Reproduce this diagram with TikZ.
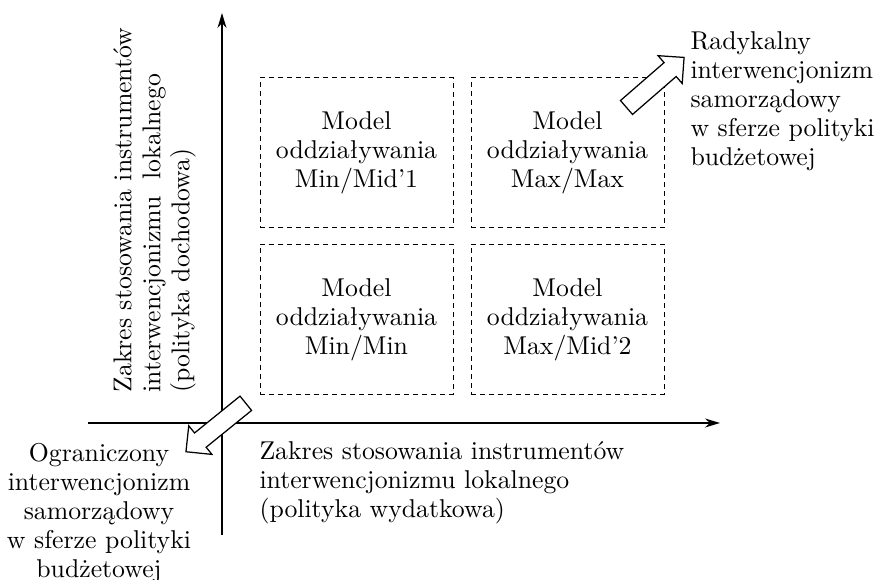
\documentclass[tikz,border=0pt]{standalone}
\usepackage{fontspec}
\usetikzlibrary{arrows.meta}

\begin{document}
\begin{tikzpicture}[x=4pt, y=4pt,
    font=\fontsize{10.3}{11.6}\selectfont,
    axis/.style={line width=0.5pt, -{Stealth[length=6pt, width=3.6pt]}},
    modelbox/.style={draw, dash pattern=on 2pt off 1.6pt, line width=0.4pt,
        minimum width=77.2pt, minimum height=60pt, align=center, inner sep=0pt, outer sep=0pt},
    blockarrow/.style={draw, fill=white, line width=0.5pt, line join=miter},
    txt/.style={inner sep=0pt}]

    \useasboundingbox (0,0) rectangle (87.7,58);

    % Draw the axes
    \coordinate (ybot) at (22.2,4.5);
    \coordinate (ytop) at (22.2,56.7);
    \coordinate (xleft) at (8.8,15.7);
    \coordinate (xright) at (72.0,15.7);
    \draw[axis] (ybot) -- (ytop);
    \draw[axis] (xleft) -- (xright);

    % Draw the four model boxes
    \node[modelbox] (minmid) at (35.65,42.7) {Model\\oddziaływania\\Min/Mid’1};
    \node[modelbox] (maxmax) at (56.75,42.7) {Model\\oddziaływania\\Max/Max};
    \node[modelbox] (minmin) at (35.65,26.05) {Model\\oddziaływania\\Min/Min};
    \node[modelbox] (maxmid) at (56.75,26.05) {Model\\oddziaływania\\Max/Mid’2};

    % Draw the hollow arrows
    \draw[blockarrow, shift={(62.65,47.25)}, rotate=41]
        (0,-0.92) -- (5.78,-0.92) -- (5.78,-1.84) -- (7.63,0) -- (5.78,1.84) -- (5.78,0.92) -- (0,0.92) -- cycle;
    \draw[blockarrow, shift={(24.58,17.67)}, rotate=219]
        (0,-0.92) -- (5.85,-0.92) -- (5.85,-1.84) -- (7.7,0) -- (5.85,1.84) -- (5.85,0.92) -- (0,0.92) -- cycle;

    % Label the axes
    \node[txt, rotate=90, anchor=north west, align=left] (ylabel) at (11.3,18.7)
        {Zakres stosowania instrumentów\\interwencjonizmu\ \ lokalnego\\(polityka dochodowa)};
    \node[txt, anchor=north west, align=left] (xlabel) at (25.9,13.9)
        {Zakres stosowania instrumentów\\interwencjonizmu lokalnego\\(polityka wydatkowa)};

    % Label the corners
    \node[txt, anchor=north west, align=left] (radlabel) at (69.0,54.9)
        {Radykalny\\interwencjonizm\\samorządowy\\w sferze polityki\\budżetowej};
    \node[txt, anchor=north, align=center] (oglabel) at (9.9,13.7)
        {Ograniczony\\interwencjonizm\\samorządowy\\w sferze polityki\\budżetowej};

\end{tikzpicture}
\end{document}
